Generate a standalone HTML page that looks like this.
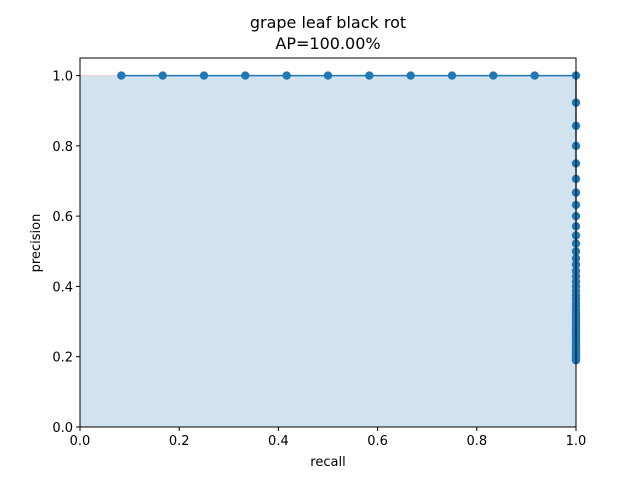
<!DOCTYPE html>
<html><head><meta charset="utf-8"><style>
body{margin:0;background:#fff;font-family:"DejaVu Sans","Liberation Sans",sans-serif}
</style></head><body>
<svg id="c" width="640" height="480" xmlns="http://www.w3.org/2000/svg" font-family="DejaVu Sans, Liberation Sans, sans-serif">
<rect width="640" height="480" fill="#fff"/>
<g id="plot"></g>
<text x="328" y="28" text-anchor="middle" font-size="16">grape leaf black rot</text>
<text x="328" y="49" text-anchor="middle" font-size="16">AP=100.00%</text>
<text x="328" y="466" text-anchor="middle" font-size="13">recall</text>
<text transform="translate(40,243) rotate(-90)" text-anchor="middle" font-size="13">precision</text>
</svg>
<script>
const recall=[0.0833,0.1667,0.25,0.3333,0.4167,0.5,0.5833,0.6667,0.75,0.8333,0.9167,1,1,1,1,1,1,1,1,1,1,1,1,1,1,1,1,1,1,1,1,1,1,1,1,1,1,1,1,1,1,1,1,1,1,1,1,1,1,1,1,1,1,1,1,1,1,1,1,1,1,1,1];
const precision=[1,1,1,1,1,1,1,1,1,1,1,1,0.923,0.857,0.8,0.75,0.706,0.667,0.632,0.6,0.571,0.545,0.522,0.5,0.48,0.462,0.444,0.429,0.414,0.4,0.387,0.375,0.364,0.353,0.343,0.333,0.324,0.316,0.308,0.3,0.293,0.286,0.279,0.273,0.267,0.261,0.255,0.25,0.245,0.24,0.235,0.231,0.226,0.222,0.218,0.214,0.211,0.207,0.203,0.2,0.197,0.194,0.19];
const xTicks=[0,0.2,0.4,0.6,0.8,1.0];
const yTicks=[0,0.2,0.4,0.6,0.8,1.0];
const L=80,R=576,T=58,B=427,YMAX=1.05;
const X=v=>L+v*(R-L), Y=v=>B-v/YMAX*(B-T);
const ns="http://www.w3.org/2000/svg", g=document.getElementById('plot');
function mk(t,a){const e=document.createElementNS(ns,t);for(const k in a)e.setAttribute(k,a[k]);g.appendChild(e);return e;}
let fp=`M${X(0)},${Y(0)} L${X(0)},${Y(precision[0])}`;
recall.forEach((r,i)=>{fp+=` L${X(r)},${Y(precision[i])}`;});
fp+=` L${X(recall[recall.length-1])},${Y(0)} Z`;
const area=mk('path',{d:fp,fill:'#d2e3ef'});


const top0=mk('line',{x1:X(0),y1:Y(1),x2:X(recall[0]),y2:Y(1),stroke:'#f4c8c8','stroke-width':1});


const pl=mk('polyline',{points:recall.map((r,i)=>X(r)+','+Y(precision[i])).join(' '),fill:'none',stroke:'#1f77b4','stroke-width':1.5});


recall.forEach((r,i)=>{const c=mk('circle',{cx:X(r),cy:Y(precision[i]),r:4.2,fill:'#1f77b4'});

});
const fr=mk('rect',{x:L,y:T,width:R-L,height:B-T,fill:'none',stroke:'#000','stroke-width':1});


xTicks.forEach(v=>{mk('line',{x1:X(v),y1:B,x2:X(v),y2:B+4,stroke:'#000'});
const t=mk('text',{x:X(v),y:B+18,'text-anchor':'middle','font-size':13});t.textContent=v.toFixed(1);

});
yTicks.forEach(v=>{mk('line',{x1:L-4,y1:Y(v),x2:L,y2:Y(v),stroke:'#000'});
const t=mk('text',{x:L-7,y:Y(v)+5,'text-anchor':'end','font-size':13});t.textContent=v.toFixed(1);

});
</script>
</body></html>
